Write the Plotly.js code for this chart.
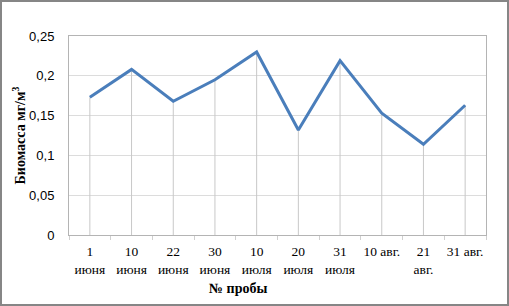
<!DOCTYPE html>
<html>
<head>
<meta charset="utf-8">
<script src="https://cdn.plot.ly/plotly-3.0.1.min.js"></script>
<style>
  html, body { margin: 0; padding: 0; background: #fff; }
  #frame { position: absolute; left: 0; top: 0; width: 505px; height: 302px; border: 2px solid #868686; }
  #chart { width: 505px; height: 302px; }
</style>
</head>
<body>
<div id="frame"><div id="chart"></div></div>
<script>
const categories = ["1<br>июня", "10<br>июня", "22<br>июня", "30<br>июня", "10<br>июля", "20<br>июля", "31<br>июля", "10 авг.", "21<br>авг.", "31 авг."];
const biomass = [0.173, 0.208, 0.168, 0.195, 0.230, 0.132, 0.219, 0.153, 0.114, 0.163];
const yTickVals = [0, 0.05, 0.1, 0.15, 0.2, 0.25];
const yTickText = ["0", "0,05", "0,1", "0,15", "0,2", "0,25"];
const xTitle = '№ пробы';
const yTitle = 'Биомасса мг/м<sup>3</sup>';

// drop lines from each point down to zero
const dropX = [], dropY = [];
categories.forEach((c, i) => { dropX.push(c, c, null); dropY.push(0, biomass[i], null); });

const traces = [
  { x: dropX, y: dropY, type: 'scatter', mode: 'lines', line: { color: '#c8c8c8', width: 1 }, hoverinfo: 'skip', showlegend: false },
  { x: categories, y: biomass, type: 'scatter', mode: 'lines', line: { color: '#4a7ebb', width: 3 }, showlegend: false }
];

const serif = 'Liberation Serif, Times New Roman, serif';

const layout = {
  width: 505, height: 302,
  margin: { l: 67, r: 21, t: 34, b: 69 },
  paper_bgcolor: '#ffffff', plot_bgcolor: '#ffffff',
  showlegend: false,
  xaxis: {
    type: 'category',
    range: [-0.5, 9.5],
    showgrid: false,
    showline: true, linecolor: '#b4b4b4', linewidth: 1, mirror: true,
    ticks: 'outside', tickson: 'boundaries', ticklen: 4, tickcolor: '#d0d0d0',
    tickangle: 0, automargin: false, ticklabelstandoff: 4,
    tickfont: { family: serif, size: 13.5, color: '#000' },
    zeroline: false, fixedrange: true
  },
  yaxis: {
    range: [0, 0.25],
    tickvals: yTickVals, ticktext: yTickText,
    showgrid: true, gridcolor: '#dcdcdc', gridwidth: 1,
    showline: true, linecolor: '#b4b4b4', linewidth: 1, mirror: true,
    ticks: '', ticklabelstandoff: 11, automargin: false,
    tickfont: { family: 'Liberation Sans, Arial, sans-serif', size: 13, color: '#000' },
    title: { text: yTitle, font: { family: serif, size: 14, color: '#000', weight: 'bold' }, standoff: 0 },
    zeroline: false, fixedrange: true
  },
  annotations: [{
    text: xTitle, xref: 'paper', yref: 'paper', x: 0.406, y: -0.268,
    xanchor: 'center', yanchor: 'middle', showarrow: false,
    font: { family: serif, size: 14, color: '#000', weight: 'bold' }
  }]
};

Plotly.newPlot('chart', traces, layout, { staticPlot: true, displayModeBar: false });
</script>
</body>
</html>
